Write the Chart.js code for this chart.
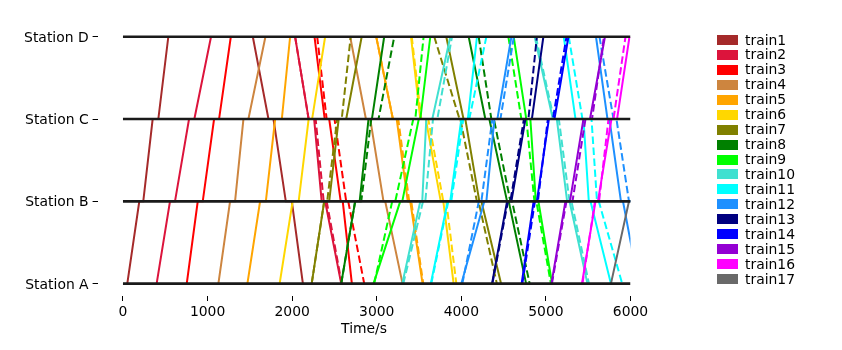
<!DOCTYPE html>
<html>
<head>
<meta charset="utf-8">
<script src="https://cdn.jsdelivr.net/npm/chart.js@4.4.1/dist/chart.umd.min.js"></script>
<style>
  html, body { margin: 0; padding: 0; background: #fff; }
  #wrap { position: relative; width: 842px; height: 350px; }
  #legend { position: absolute; left: 717px; top: 0; font-family: "DejaVu Sans", sans-serif; font-size: 13.9px; color: #000; }
  .item { position: absolute; left: 0; height: 15px; line-height: 15px; white-space: nowrap; display: flex; align-items: center; }
  .swatch { width: 21px; height: 10px; margin-right: 7px; }
</style>
</head>
<body>
<div id="wrap">
  <canvas id="chart" width="842" height="350"></canvas>
  <div id="legend"></div>
</div>
<script>
const stationNames = ["Station A", "Station B", "Station C", "Station D"];
const xTicks = [0, 1000, 2000, 3000, 4000, 5000, 6000];

const trainNames = [
  "train1", "train2", "train3", "train4", "train5", "train6", "train7", "train8", "train9",
  "train10", "train11", "train12", "train13", "train14", "train15", "train16", "train17",
];
const trainColors = [
  "#a52a2a", "#dc143c", "#ff0000", "#cd853f", "#ffa500", "#ffd700", "#808000", "#008000", "#00ff00",
  "#40e0d0", "#00ffff", "#1e90ff", "#000080", "#0000ff", "#9400d3", "#ff00ff", "#696969",
];

// stop sequence of each run (station index per time)
const upStops = [0, 1, 1, 2, 2, 3];
const downStops = [3, 2, 2, 1, 1, 0];

// up run times: dep A, arr B, dep B, arr C, dep C, arr D (s)
const upSolid = [
  [51, 193, 240, 351, 418, 536],
  [398, 556, 615, 781, 844, 1041],
  [754, 884, 943, 1077, 1136, 1275],
  [1128, 1266, 1325, 1424, 1483, 1684],
  [1471, 1621, 1689, 1799, 1878, 1976],
  [1852, 2006, 2077, 2195, 2236, 2390],
  [2231, 2379, 2438, 2550, 2639, 2822],
  [2580, 2745, 2798, 2903, 2943, 3088],
  [2962, 3278, 3302, 3497, 3515, 3633],
  [3302, 3515, 3538, 3586, 3657, 3870],
  [3639, 3839, 3869, 4000, 4077, 4185],
  [4000, 4272, 4296, 4391, 4426, 4592],
  [4363, 4541, 4592, 4758, 4834, 4970],
  [4713, 4855, 4893, 5035, 5101, 5266],
  [5065, 5231, 5284, 5444, 5521, 5698],
  [5426, 5586, 5615, 5775, 5841, 5988],
  [5769, 5982, 6030, 6230, 6290, 6500],
];
const upDashed = [
  null, null, null, null, null, null,
  [2231, 2379, 2414, 2532, 2586, 2692],
  [2580, 2745, 2817, 2935, 3021, 3207],
  [2970, 3183, 3219, 3432, 3456, 3554],
  [3314, 3547, 3574, 3665, 3716, 3890],
  [3645, 3846, 3881, 4023, 4094, 4296],
  [4012, 4207, 4237, 4367, 4462, 4621],
  [4367, 4551, 4580, 4740, 4793, 4893],
  [4721, 4870, 4905, 5023, 5083, 5243],
  [5071, 5243, 5314, 5468, 5545, 5686],
  [5432, 5580, 5628, 5740, 5799, 5941],
  null,
];

// down run times: dep D, arr C, dep C, arr B, dep B, arr A (s)
const downSolid = [
  [1535, 1720, 1779, 1925, 1996, 2127],
  [2035, 2195, 2260, 2349, 2390, 2580],
  [2264, 2385, 2438, 2574, 2598, 2706],
  [2686, 2872, 2923, 3080, 3100, 3305],
  [2994, 3191, 3236, 3367, 3396, 3542],
  [3405, 3515, 3580, 3757, 3787, 3909],
  [3822, 4026, 4047, 4213, 4237, 4470],
  [4087, 4284, 4331, 4541, 4560, 4766],
  [4619, 4768, 4816, 4881, 4911, 5073],
  [4867, 5082, 5129, 5251, 5279, 5491],
  [5211, 5350, 5444, 5507, 5527, 5769],
  [5592, 5728, 5751, 5887, 5911, 6095],
  null, null, null, null, null,
];
const downDashed = [
  null,
  [2035, 2195, 2278, 2373, 2408, 2586],
  [2296, 2408, 2501, 2639, 2663, 2852],
  null,
  [2994, 3191, 3254, 3384, 3408, 3550],
  [3414, 3527, 3609, 3787, 3822, 3941],
  [3680, 3979, 3988, 4184, 4203, 4420],
  [4205, 4355, 4385, 4580, 4600, 4808],
  [4556, 4710, 4769, 4864, 4887, 5059],
  [4881, 5094, 5153, 5279, 5302, 5509],
  [5270, 5432, 5539, 5604, 5625, 5902],
  [5633, 5799, 5834, 5982, 6006, 6190],
  null, null, null, null, null,
];

function toPoints(times, stops) {
  return times.map((t, i) => ({ x: t, y: stops[i] }));
}

const datasets = [];

// station lines, drawn on top
stationNames.forEach((name, i) => {
  datasets.push({
    label: name,
    data: [{ x: 0, y: i }, { x: 6000, y: i }],
    borderColor: "#1a1a1a",
    borderWidth: 2.6,
    pointRadius: 0,
    order: 0,
  });
});

let layer = 1000;
trainNames.forEach((name, i) => {
  const runs = [
    [upSolid[i], upStops, []],
    [upDashed[i], upStops, [7.5, 3.5]],
    [downSolid[i], downStops, []],
    [downDashed[i], downStops, [7.5, 3.5]],
  ];
  runs.forEach(([times, stops, dash]) => {
    if (!times) return;
    datasets.push({
      label: name,
      data: toPoints(times, stops),
      borderColor: trainColors[i],
      backgroundColor: trainColors[i],
      borderWidth: 2,
      borderDash: dash,
      pointRadius: 0,
      tension: 0,
      fill: false,
      order: layer--,
    });
  });
});

const font = { family: "'DejaVu Sans', sans-serif", size: 13.9 };

new Chart(document.getElementById("chart"), {
  type: "line",
  data: { datasets },
  options: {
    responsive: false,
    animation: false,
    events: [],
    devicePixelRatio: 1,
    layout: { padding: { top: 24.4, right: 211.5, bottom: 0, left: 0 } },
    plugins: {
      legend: { display: false },
      tooltip: { enabled: false },
    },
    scales: {
      x: {
        type: "linear",
        min: -300,
        max: 6000,
        afterBuildTicks: (axis) => {
          axis.ticks = xTicks.map((v) => ({ value: v }));
        },
        afterFit: (axis) => {
          axis.height = 54;
        },
        ticks: { color: "#000", font, padding: 3, maxRotation: 0, callback: (v) => String(v) },
        grid: { drawOnChartArea: false, tickLength: 5, tickColor: "#000", lineWidth: 1 },
        border: { display: false },
        title: { display: true, text: "Time/s", color: "#000", font, padding: { top: 0, bottom: 12.5 } },
      },
      y: {
        type: "linear",
        min: -0.15,
        max: 3.15,
        afterBuildTicks: (axis) => {
          axis.ticks = [0, 1, 2, 3].map((v) => ({ value: v }));
        },
        afterFit: (axis) => {
          axis.width = 97.6;
        },
        ticks: { color: "#000", font, padding: 4, labelOffset: 1.5, callback: (v) => stationNames[v] },
        grid: { drawOnChartArea: false, tickLength: 5, tickColor: "#000", lineWidth: 1 },
        border: { display: false },
      },
    },
  },
});

// legend
const legend = document.getElementById("legend");
trainNames.forEach((name, i) => {
  const item = document.createElement("div");
  item.className = "item";
  item.style.top = (32.5 + i * 14.94) + "px";
  const sw = document.createElement("span");
  sw.className = "swatch";
  sw.style.background = trainColors[i];
  const txt = document.createElement("span");
  txt.textContent = name;
  item.appendChild(sw);
  item.appendChild(txt);
  legend.appendChild(item);
});
</script>
</body>
</html>
